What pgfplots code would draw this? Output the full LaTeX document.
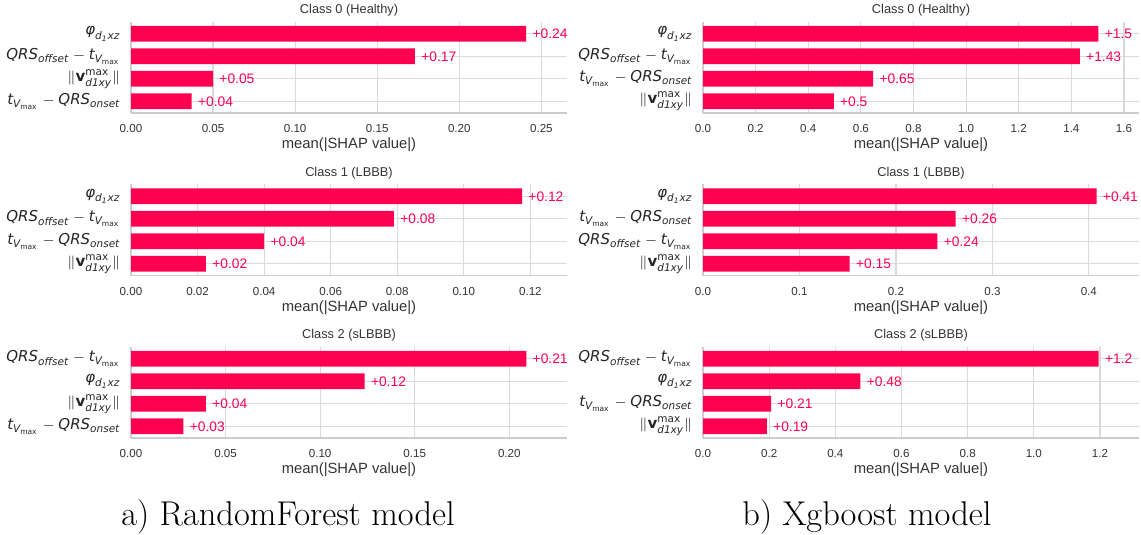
\documentclass[border=0pt]{standalone}
\usepackage{fontspec}
\usepackage{amsmath}
\usepackage{pgfplots}
\usepackage{pgfplotstable}
\pgfplotsset{compat=1.18}
\newfontfamily\sansf{Liberation Sans}
\newfontfamily\dejavu{DejaVu Sans}
\definecolor{shapred}{HTML}{FF0051}
\definecolor{txtgray}{HTML}{333333}
\definecolor{gridgray}{HTML}{DADADA}
\definecolor{spinegray}{HTML}{CCCCCC}

\newcommand{\Lphi}{$\text{\itshape φ}_{\text{\itshape d}_{\text{\itshape 1}}\text{\itshape xz}}$}
\newcommand{\Lqo}{$\text{\itshape QRS}_{\text{\itshape offset}}-\text{\itshape t}_{\text{\itshape V}_{\text{max}}}$}
\newcommand{\Lto}{$\text{\itshape t}_{\text{\itshape V}_{\text{max}}}-\text{\itshape QRS}_{\text{\itshape onset}}$}
\newcommand{\Lv}{$\|\text{\bfseries v}^{\text{max}}_{\text{\itshape d1xy}}\|$}

\pgfplotstableread{
y x lab
0 0.037 0.04
1 0.050 0.05
2 0.173 0.17
3 0.2407 0.24
}\rfA
\pgfplotstableread{
y x lab
0 0.0225 0.02
1 0.040 0.04
2 0.079 0.08
3 0.1175 0.12
}\rfB
\pgfplotstableread{
y x lab
0 0.0277 0.03
1 0.0396 0.04
2 0.1235 0.12
3 0.209 0.21
}\rfC
\pgfplotstableread{
y x lab
0 0.497 0.5
1 0.647 0.65
2 1.432 1.43
3 1.503 1.5
}\xgA
\pgfplotstableread{
y x lab
0 0.152 0.15
1 0.243 0.24
2 0.262 0.26
3 0.408 0.41
}\xgB
\pgfplotstableread{
y x lab
0 0.193 0.19
1 0.206 0.21
2 0.476 0.48
3 1.196 1.2
}\xgC

\pgfplotsset{
  every axis title shift=0pt,
  shapax/.style={
    scale only axis, width=218pt, height=45.65pt,
    anchor=north west,
    xbar, bar width=0.7,
    xmin=0, ymin=-0.52, ymax=3.54,
    ytick={0,1,2,3},
    grid=major,
    major grid style={gridgray, line width=0.6pt},
    axis x line*=bottom, axis y line*=left,
    axis line style={-, spinegray, line width=0.7pt},
    major tick length=0pt,
    tick label style={font=\sansf\fontsize{5.8}{6.5}\selectfont, text=txtgray},
    yticklabel style={font=\dejavu\fontsize{7.5}{8.5}\selectfont, text=black!85, xshift=-1.8pt},
    xticklabel style={yshift=-2.3pt},
    xlabel={mean(|SHAP value|)},
    xlabel style={font=\sansf\fontsize{7.4}{8.5}\selectfont, text=txtgray,
      at={(axis description cs:0.5,0)}, anchor=center, yshift=-16pt},
    title style={font=\sansf\fontsize{6.4}{7.5}\selectfont, text=txtgray,
      at={(axis description cs:0.5,1)}, anchor=center, yshift=5.6pt},
    point meta=explicit symbolic,
    nodes near coords={+\pgfplotspointmeta},
    nodes near coords style={font=\sansf\fontsize{6.9}{8}\selectfont, text=shapred,
      anchor=west, inner sep=0pt, xshift=3pt},
    clip=false,
  },
  shapbar/.style={fill=shapred, draw=none},
}

\begin{document}
\begin{tikzpicture}
\useasboundingbox (0,0) rectangle (570.5pt,-267.5pt);

% ---------- RandomForest ----------
\begin{axis}[shapax, at={(65.5pt,-10.85pt)}, title={Class 0 (Healthy)},
  xmax=0.2656, xtick={0,0.05,0.10,0.15,0.20,0.25},
  xticklabels={0.00,0.05,0.10,0.15,0.20,0.25},
  yticklabels={\Lto,\Lv,\Lqo,\Lphi}]
\addplot[shapbar] table[x=x,y=y,meta=lab] {\rfA};
\end{axis}

\begin{axis}[shapax, at={(65.5pt,-92.1pt)}, title={Class 1 (LBBB)},
  xmax=0.131, xtick={0,0.02,0.04,0.06,0.08,0.10,0.12},
  xticklabels={0.00,0.02,0.04,0.06,0.08,0.10,0.12},
  yticklabels={\Lv,\Lto,\Lqo,\Lphi}]
\addplot[shapbar] table[x=x,y=y,meta=lab] {\rfB};
\end{axis}

\begin{axis}[shapax, at={(65.5pt,-173.35pt)}, title={Class 2 (sLBBB)},
  xmax=0.2305, xtick={0,0.05,0.10,0.15,0.20},
  xticklabels={0.00,0.05,0.10,0.15,0.20},
  yticklabels={\Lto,\Lv,\Lphi,\Lqo}]
\addplot[shapbar] table[x=x,y=y,meta=lab] {\rfC};
\end{axis}

% ---------- Xgboost ----------
\begin{axis}[shapax, at={(351.5pt,-10.85pt)}, title={Class 0 (Healthy)},
  xmax=1.657, xtick={0,0.2,0.4,0.6,0.8,1.0,1.2,1.4,1.6},
  xticklabels={0.0,0.2,0.4,0.6,0.8,1.0,1.2,1.4,1.6},
  yticklabels={\Lv,\Lto,\Lqo,\Lphi}]
\addplot[shapbar] table[x=x,y=y,meta=lab] {\xgA};
\end{axis}

\begin{axis}[shapax, at={(351.5pt,-92.1pt)}, title={Class 1 (LBBB)},
  xmax=0.452, xtick={0,0.1,0.2,0.3,0.4},
  xticklabels={0.0,0.1,0.2,0.3,0.4},
  yticklabels={\Lv,\Lqo,\Lto,\Lphi}]
\addplot[shapbar] table[x=x,y=y,meta=lab] {\xgB};
\end{axis}

\begin{axis}[shapax, at={(351.5pt,-173.35pt)}, title={Class 2 (sLBBB)},
  xmax=1.318, xtick={0,0.2,0.4,0.6,0.8,1.0,1.2},
  xticklabels={0.0,0.2,0.4,0.6,0.8,1.0,1.2},
  yticklabels={\Lv,\Lto,\Lphi,\Lqo}]
\addplot[shapbar] table[x=x,y=y,meta=lab] {\xgC};
\end{axis}

\node[font=\fontsize{17.2}{20}\selectfont] at (144pt,-258.5pt) {a) RandomForest model};
\node[font=\fontsize{17.2}{20}\selectfont] at (433.5pt,-258.5pt) {b) Xgboost model};
\end{tikzpicture}
\end{document}
